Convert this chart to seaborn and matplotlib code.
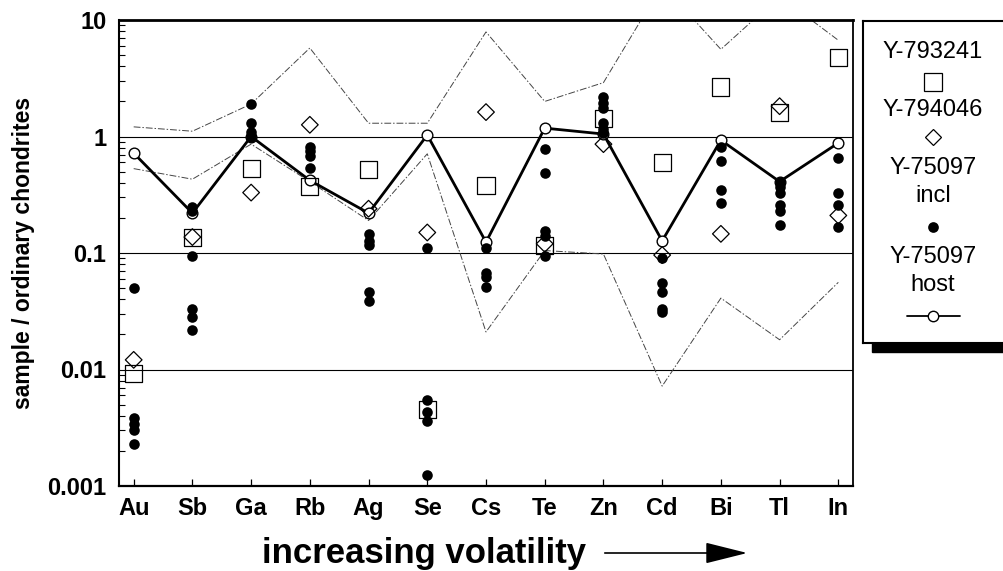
import numpy as np
import pandas as pd
import matplotlib
matplotlib.use("Agg")
import matplotlib.pyplot as plt
import seaborn as sns
from matplotlib.ticker import FixedLocator, FixedFormatter, LogLocator, NullFormatter
from matplotlib.patches import Rectangle

# ---------------- data ----------------
elements = ["Au", "Sb", "Ga", "Rb", "Ag", "Se", "Cs", "Te", "Zn", "Cd", "Bi", "Tl", "In"]
y793241 = [0.0092, 0.137, 0.53, 0.37, 0.52, 0.0045, 0.38, 0.115, 1.44, 0.60, 2.66, 1.62, 4.8]
y794046 = [0.0121, 0.137, 0.33, 1.26, 0.24, 0.15, 1.62, 0.12, 0.86, 0.096, 0.146, 1.82, 0.21]
host = [0.72, 0.22, 1.0, 0.42, 0.22, 1.03, 0.124, 1.18, 1.05, 0.127, 0.93, 0.41, 0.88]
upper = [1.21, 1.11, 1.9, 5.75, 1.3, 1.3, 7.9, 2.0, 2.9, 20.0, 5.6, 16.0, 6.7]
lower = [0.53, 0.43, 0.86, 0.41, 0.19, 0.71, 0.021, 0.105, 0.098, 0.0072, 0.041, 0.018, 0.056]

incl_element = (["Au"] * 5 + ["Sb"] * 6 + ["Ga"] * 4 + ["Rb"] * 4 + ["Ag"] * 5 +
                ["Se"] * 5 + ["Cs"] * 4 + ["Te"] * 5 + ["Zn"] * 6 + ["Cd"] * 5 +
                ["Bi"] * 4 + ["Tl"] * 6 + ["In"] * 4)
incl_value = [0.05, 0.0038, 0.0034, 0.0030, 0.0023,
              0.25, 0.23, 0.095, 0.033, 0.028, 0.022,
              1.9, 1.3, 1.1, 1.0,
              0.82, 0.75, 0.68, 0.54,
              0.145, 0.128, 0.118, 0.046, 0.039,
              0.11, 0.0055, 0.0043, 0.0036, 0.00125,
              0.11, 0.068, 0.062, 0.051,
              0.78, 0.49, 0.155, 0.14, 0.095,
              2.2, 1.95, 1.75, 1.3, 1.17, 1.07,
              0.091, 0.055, 0.046, 0.033, 0.031,
              0.81, 0.62, 0.35, 0.27,
              0.41, 0.37, 0.33, 0.26, 0.23, 0.175,
              0.66, 0.33, 0.26, 0.167]

ytick_vals = [0.001, 0.01, 0.1, 1, 10]
ytick_labels = ["0.001", "0.01", "0.1", "1", "10"]

legend_labels = ["Y-793241", "Y-794046", "Y-75097\nincl", "Y-75097\nhost"]

df = pd.DataFrame({"element": elements, "host": host, "upper": upper, "lower": lower,
                   "sq": y793241, "di": y794046})
incl_df = pd.DataFrame({"element": incl_element, "value": incl_value})

# ---------------- style ----------------
sns.set_theme(style="white")
plt.rcParams["font.family"] = ["Liberation Sans", "DejaVu Sans"]

W, H = 1004, 571
fig = plt.figure(figsize=(W / 100, H / 100), dpi=100)
ax = fig.add_axes([119 / W, 1 - 486 / H, (853 - 119) / W, (486 - 20) / H])

env_style = dict(color="#444444", linewidth=0.7, linestyle=(0, (7, 2, 1.5, 2)))
sns.lineplot(data=df, x="element", y="upper", ax=ax, sort=False, estimator=None, zorder=2, **env_style)
sns.lineplot(data=df, x="element", y="lower", ax=ax, sort=False, estimator=None, zorder=2, **env_style)
sns.lineplot(data=df, x="element", y="host", ax=ax, sort=False, estimator=None, color="black",
             linewidth=2.0, marker="o", markersize=7.7, markerfacecolor="white",
             markeredgecolor="black", markeredgewidth=1.0, zorder=3)

sns.scatterplot(data=df, x="element", y="sq", ax=ax, marker="s", s=150, color="white",
                edgecolor="black", linewidth=0.9, zorder=4)
ax.collections[-1].set_facecolor("none")
sns.scatterplot(data=df, x="element", y="di", ax=ax, marker="D", s=72, color="white",
                edgecolor="black", linewidth=0.9, zorder=5)
ax.collections[-1].set_facecolor("none")
sns.scatterplot(data=incl_df, x="element", y="value", ax=ax, marker="o", s=58, color="black",
                edgecolor="black", linewidth=0, zorder=6)

ax.set_yscale("log")
ax.set_ylim(0.001, 10)
ax.set_xlim(-0.25, len(elements) - 0.75)
ax.yaxis.set_major_locator(FixedLocator(ytick_vals))
ax.yaxis.set_major_formatter(FixedFormatter(ytick_labels))
ax.yaxis.set_minor_locator(LogLocator(base=10, subs=np.arange(2, 10)))
ax.yaxis.set_minor_formatter(NullFormatter())
ax.set_xticks(range(len(elements)))
ax.set_xticklabels(elements)

ax.grid(False)
for v in ytick_vals[1:-1]:
    ax.axhline(v, color="black", linewidth=0.8, zorder=1)

ax.tick_params(axis="y", which="major", length=0, pad=9, labelsize=17)
ax.tick_params(axis="y", which="minor", direction="in", length=4, width=0.8, color="black", left=True)
ax.tick_params(axis="x", which="major", direction="in", length=5, width=0.9, color="black",
               pad=8, labelsize=17, bottom=True)
for lab in ax.get_xticklabels() + ax.get_yticklabels():
    lab.set_fontweight("bold")
    lab.set_color("black")

for side, lw in [("top", 2.0), ("left", 1.5), ("bottom", 1.6), ("right", 1.3)]:
    ax.spines[side].set_visible(True)
    ax.spines[side].set_color("black")
    ax.spines[side].set_linewidth(lw)

ax.set_xlabel("")
ax.set_ylabel("sample / ordinary chondrites", fontsize=16.5, fontweight="bold", color="black", labelpad=9)

# x-axis caption with arrow
fig.text(424 / W, 1 - 553 / H, "increasing volatility", fontsize=25, fontweight="bold",
         ha="center", va="center", color="black")
fig.patches.append(matplotlib.patches.FancyArrowPatch(
    (602 / W, 1 - 553 / H), (750 / W, 1 - 553 / H), transform=fig.transFigure,
    arrowstyle="-|>,head_length=1.2,head_width=0.3", mutation_scale=22,
    color="black", linewidth=1.2))

# ---------------- legend panel ----------------
lax = fig.add_axes([863 / W, 1 - 343 / H, (1010 - 863) / W, (343 - 21) / H])
lax.set_xlim(863, 1010)
lax.set_ylim(343, 21)
lax.set_xticks([])
lax.set_yticks([])
lax.set_facecolor("white")
for side in ["left", "top", "bottom"]:
    lax.spines[side].set_visible(True)
    lax.spines[side].set_color("black")
    lax.spines[side].set_linewidth(1.5)
lax.spines["right"].set_visible(False)
fig.patches.append(Rectangle((872 / W, 1 - 352 / H), (W - 872) / W, 9 / H,
                             transform=fig.transFigure, color="black"))

cx = 933
lkw = dict(ha="center", va="center", fontsize=17, color="black")
lax.text(cx, 52, legend_labels[0], **lkw)
lax.plot([cx], [82], marker="s", markersize=12.5, markerfacecolor="none", markeredgecolor="black", markeredgewidth=0.9)
lax.text(cx, 110, legend_labels[1], **lkw)
lax.plot([cx], [137], marker="D", markersize=8.5, markerfacecolor="none", markeredgecolor="black", markeredgewidth=0.9)
lax.text(cx, 182, legend_labels[2], linespacing=1.35, **lkw)
lax.plot([cx], [227], marker="o", markersize=7.7, color="black", markeredgewidth=0)
lax.text(cx, 271, legend_labels[3], linespacing=1.35, **lkw)
lax.plot([907, 960], [316, 316], color="black", linewidth=1.3, marker="", zorder=2)
lax.plot([cx], [316], marker="o", markersize=7.5, markerfacecolor="white", markeredgecolor="black",
         markeredgewidth=1.0, zorder=3)

fig.savefig("out.png", dpi=100)
